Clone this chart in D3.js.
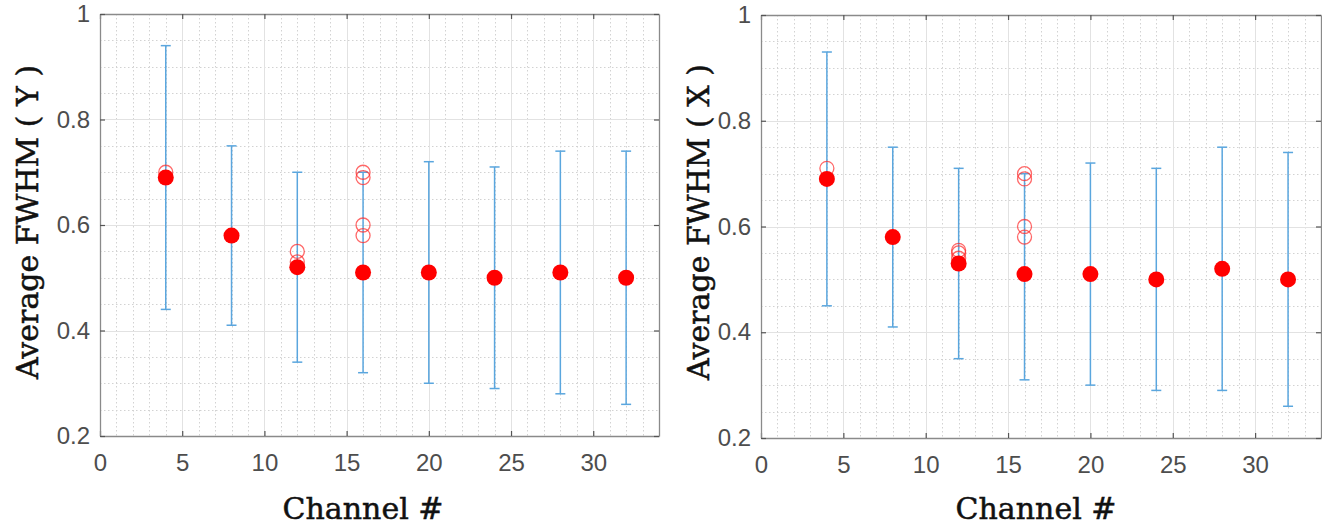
<!DOCTYPE html>
<html><head><meta charset="utf-8">
<script src="https://cdn.jsdelivr.net/npm/d3@7"></script>
<style>body{margin:0;background:#fff;} svg{display:block}</style>
</head><body>
<svg id="chart" width="1322" height="529"></svg>
<script>
// ---- data ----
const channels = [4, 8, 12, 16, 20, 24, 28, 32];

// left panel (Y)
const meanY  = [0.69, 0.58, 0.52, 0.51, 0.51, 0.50, 0.51, 0.50];
const upperY = [0.94, 0.75, 0.70, 0.70, 0.72, 0.71, 0.74, 0.74];
const lowerY = [0.44, 0.41, 0.34, 0.32, 0.30, 0.29, 0.28, 0.26];
const openChY  = [4, 12, 12, 16, 16, 16, 16];
const openValY = [0.70, 0.55, 0.53, 0.70, 0.69, 0.60, 0.58];

// right panel (X)
const meanX  = [0.69, 0.58, 0.53, 0.51, 0.51, 0.50, 0.52, 0.50];
const upperX = [0.93, 0.75, 0.71, 0.70, 0.72, 0.71, 0.75, 0.74];
const lowerX = [0.45, 0.41, 0.35, 0.31, 0.30, 0.29, 0.29, 0.26];
const openChX  = [4, 12, 12, 12, 16, 16, 16, 16];
const openValX = [0.71, 0.555, 0.55, 0.54, 0.70, 0.69, 0.60, 0.58];

const xDomain = [0, 34];
const yDomain = [0.2, 1];
const xTicks = [0, 5, 10, 15, 20, 25, 30];
const yTicks = [0.2, 0.4, 0.6, 0.8, 1];
const xLabel = "Channel #";
const yLabelLeft = "Average FWHM ( Y )";
const yLabelRight = "Average FWHM ( X )";

const svg = d3.select("#chart");

function panel(cfg) {
  const g = svg.append("g");
  const x = d3.scaleLinear(xDomain, [cfg.x0, cfg.x1]);
  const y = d3.scaleLinear(yDomain, [cfg.y1, cfg.y0]);

  // minor grid
  const minorX = d3.range(1, 34).filter(v => v % 5 !== 0);
  const minorY = d3.range(0.25, 1.0, 0.05).filter(v => Math.abs(v * 5 - Math.round(v * 5)) > 1e-6);
  g.append("g").selectAll("line").data(minorX).join("line")
    .attr("x1", d => Math.round(x(d)) + 0.5).attr("x2", d => Math.round(x(d)) + 0.5)
    .attr("y1", cfg.y0).attr("y2", cfg.y1)
    .attr("stroke", "#d2d2d2").attr("stroke-width", 1).attr("stroke-dasharray", "1.5,2.5");
  g.append("g").selectAll("line").data(minorY).join("line")
    .attr("y1", d => Math.round(y(d)) + 0.5).attr("y2", d => Math.round(y(d)) + 0.5)
    .attr("x1", cfg.x0).attr("x2", cfg.x1)
    .attr("stroke", "#d2d2d2").attr("stroke-width", 1).attr("stroke-dasharray", "1.5,2.5");
  // major grid
  g.append("g").selectAll("line").data(xTicks.slice(1)).join("line")
    .attr("x1", d => Math.round(x(d)) + 0.5).attr("x2", d => Math.round(x(d)) + 0.5)
    .attr("y1", cfg.y0).attr("y2", cfg.y1)
    .attr("stroke", "#e2e2e2").attr("stroke-width", 1);
  g.append("g").selectAll("line").data(yTicks.slice(1, -1)).join("line")
    .attr("y1", d => Math.round(y(d)) + 0.5).attr("y2", d => Math.round(y(d)) + 0.5)
    .attr("x1", cfg.x0).attr("x2", cfg.x1)
    .attr("stroke", "#e2e2e2").attr("stroke-width", 1);

  // axes
  const axisColor = "#8a8a8a";
  const styleAxis = sel => {
    sel.select(".domain").attr("stroke", axisColor).attr("stroke-width", 1.3);
    sel.selectAll(".tick line").attr("stroke", "#555").attr("stroke-width", 1.2);
    sel.selectAll("text").attr("fill", "#4d4d4d")
      .style("font-family", "'Liberation Sans', Arial, sans-serif").style("font-size", "24px");
  };
  g.append("g").attr("transform", `translate(0,${cfg.y1})`)
    .call(d3.axisBottom(x).tickValues(xTicks).tickSize(-5).tickSizeOuter(0).tickPadding(18).tickFormat(d3.format("d")))
    .call(styleAxis);
  g.append("g").attr("transform", `translate(0,${cfg.y0})`)
    .call(d3.axisTop(x).tickValues(xTicks).tickSize(-5).tickSizeOuter(0).tickFormat(""))
    .call(styleAxis);
  g.append("g").attr("transform", `translate(${cfg.x0},0)`)
    .call(d3.axisLeft(y).tickValues(yTicks).tickSize(-5).tickSizeOuter(0).tickPadding(10).tickFormat(d3.format("~g")))
    .call(styleAxis);
  g.append("g").attr("transform", `translate(${cfg.x1},0)`)
    .call(d3.axisRight(y).tickValues(yTicks).tickSize(-5).tickSizeOuter(0).tickFormat(""))
    .call(styleAxis);

  // error bars
  const barColor = "#5aa6de";
  const capW = 5;
  const eb = g.append("g").attr("stroke", barColor).attr("stroke-width", 1.5);
  eb.selectAll("line.v").data(channels).join("line").attr("class", "v")
    .attr("x1", d => x(d)).attr("x2", d => x(d))
    .attr("y1", (d, i) => y(cfg.upper[i])).attr("y2", (d, i) => y(cfg.lower[i]));
  eb.selectAll("line.t").data(channels).join("line").attr("class", "t")
    .attr("x1", d => x(d) - capW).attr("x2", d => x(d) + capW)
    .attr("y1", (d, i) => y(cfg.upper[i])).attr("y2", (d, i) => y(cfg.upper[i]));
  eb.selectAll("line.b").data(channels).join("line").attr("class", "b")
    .attr("x1", d => x(d) - capW).attr("x2", d => x(d) + capW)
    .attr("y1", (d, i) => y(cfg.lower[i])).attr("y2", (d, i) => y(cfg.lower[i]));

  // open circles
  g.append("g").selectAll("circle").data(cfg.openCh).join("circle")
    .attr("cx", d => x(d)).attr("cy", (d, i) => y(cfg.openVal[i]))
    .attr("r", 7).attr("fill", "none")
    .attr("stroke", "rgba(255,40,40,0.7)").attr("stroke-width", 1.3);

  // filled means
  g.append("g").selectAll("circle").data(channels).join("circle")
    .attr("cx", d => x(d)).attr("cy", (d, i) => y(cfg.mean[i]))
    .attr("r", 8).attr("fill", "#ff0000");

  // labels
  const labelFont = "'DejaVu Serif', serif";
  g.append("text").text(xLabel)
    .attr("x", cfg.xLabelX).attr("y", 519).attr("text-anchor", "middle")
    .style("font-family", labelFont).style("font-size", "30px")
    .attr("fill", "#111").attr("stroke", "#111").attr("stroke-width", 0.5);
  g.append("text").text(cfg.yLabel)
    .attr("transform", `translate(${cfg.yLabelX},${cfg.yLabelY}) rotate(-90)`)
    .attr("text-anchor", "middle")
    .style("font-family", labelFont).style("font-size", "30px")
    .attr("fill", "#111").attr("stroke", "#111").attr("stroke-width", 0.5);
}

panel({x0: 100, x1: 659, y0: 14, y1: 436,
  mean: meanY, upper: upperY, lower: lowerY, openCh: openChY, openVal: openValY,
  yLabel: yLabelLeft, xLabelX: 363, yLabelX: 38, yLabelY: 222});
panel({x0: 761, x1: 1321, y0: 15, y1: 438,
  mean: meanX, upper: upperX, lower: lowerX, openCh: openChX, openVal: openValX,
  yLabel: yLabelRight, xLabelX: 1036, yLabelX: 709, yLabelY: 222});
</script>
</body></html>
